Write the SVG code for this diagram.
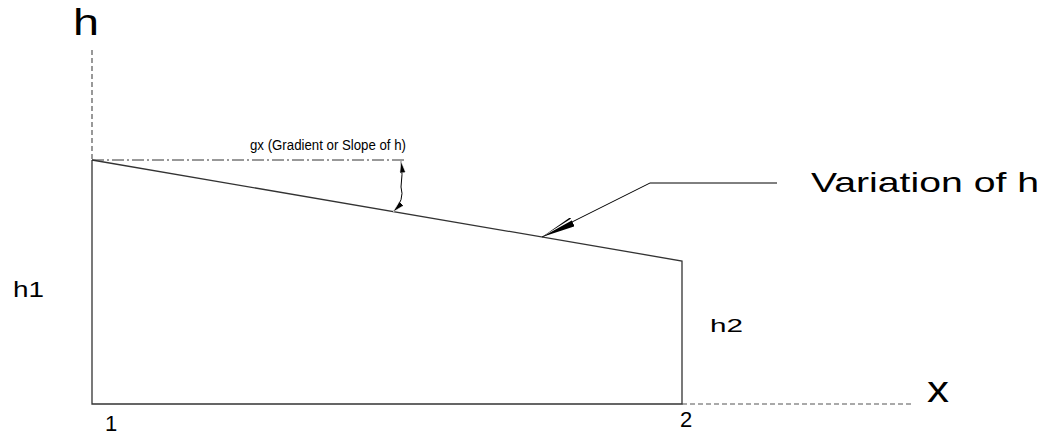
<svg xmlns="http://www.w3.org/2000/svg" width="1050" height="434" viewBox="0 0 1050 434">
<style>
text{font-family:"Liberation Sans",Arial,sans-serif;fill:#000}
.ln{stroke:#333;stroke-width:1.3;fill:none}
.dash{stroke:#555;stroke-width:1.2;stroke-dasharray:5,3;fill:none}
</style>
<defs>
<marker id="ah" viewBox="0 0 12 6" refX="12" refY="3" markerWidth="12" markerHeight="6" markerUnits="userSpaceOnUse" orient="auto">
<path d="M0,0 L12,3 L0,6 Z" fill="#000" stroke="#fff" stroke-width="0.6"/>
</marker>
<marker id="big" viewBox="0 0 34 10" refX="34" refY="5" markerWidth="34" markerHeight="10" markerUnits="userSpaceOnUse" orient="auto">
<path d="M0,0 L34,5 L0,10 Z" fill="#000"/>
<path d="M0,6.5 L34,5 L0,8.5 Z" fill="#fff"/>
</marker>
</defs>
<rect width="1050" height="434" fill="#fff"/>
<g id="axes">
<line class="dash" x1="92" y1="50" x2="92" y2="160"/>
<line class="dash" x1="682" y1="404" x2="912" y2="404"/>
<text x="73" y="35" font-size="36" textLength="26" lengthAdjust="spacingAndGlyphs">h</text>
<text x="927" y="402" font-size="36" textLength="22" lengthAdjust="spacingAndGlyphs">x</text>
</g>
<g id="profile">
<polyline class="ln" points="92,160 92,404 682,404 682,261 92,160"/>
<text x="13" y="297" font-size="22" textLength="31" lengthAdjust="spacingAndGlyphs">h1</text>
<text x="710" y="332" font-size="19" textLength="33" lengthAdjust="spacingAndGlyphs">h2</text>
<text x="105" y="431" font-size="22">1</text>
<text x="680" y="427" font-size="22">2</text>
</g>
<g id="gradient">
<line x1="92" y1="160" x2="406" y2="160" stroke="#333" stroke-width="1" stroke-dasharray="12,3,2,3"/>
<text x="250" y="150" font-size="14" textLength="156" lengthAdjust="spacingAndGlyphs">gx (Gradient or Slope of h)</text>
</g>
<g id="variation">
<text x="811" y="192" font-size="28" textLength="228" lengthAdjust="spacingAndGlyphs">Variation of h</text>
</g>
<g id="connectors">
<path d="M401,187 Q405,200 393,212" fill="none" stroke="#000" stroke-width="1" marker-end="url(#ah)"/>
<path d="M401,187 Q403,175 401,161" fill="none" stroke="#000" stroke-width="1" marker-end="url(#ah)"/>
<polyline points="777,183 650,183 542,237" fill="none" stroke="#000" stroke-width="1" marker-end="url(#big)"/>
</g>
</svg>
